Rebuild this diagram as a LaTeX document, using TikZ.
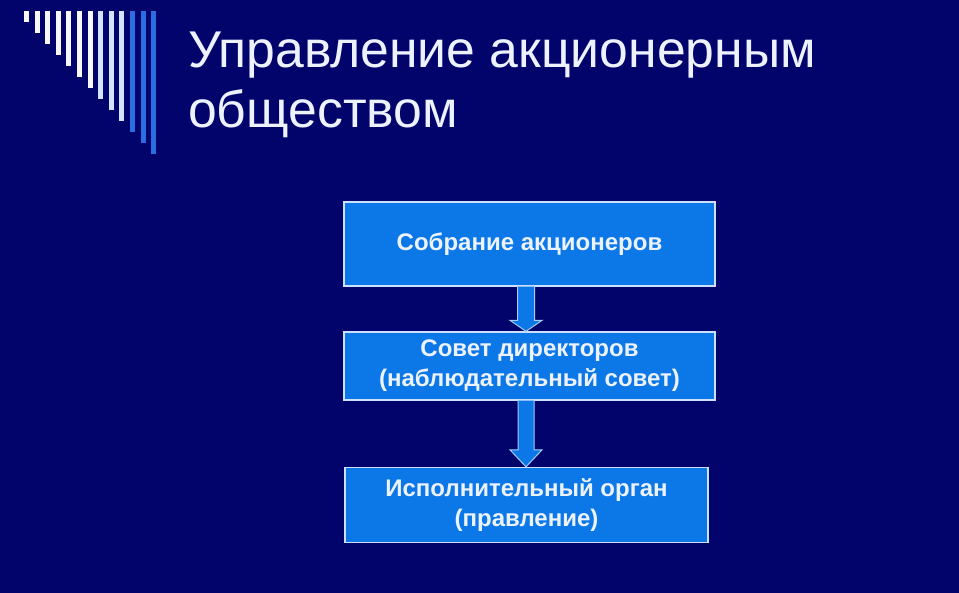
\documentclass[tikz,border=0pt]{standalone}
\usepackage{fontspec}
\setmainfont{Liberation Sans}
\usetikzlibrary{calc}
\definecolor{bgnavy}{RGB}{3,3,108}
\definecolor{boxblue}{RGB}{12,120,232}
\definecolor{boxline}{RGB}{205,225,255}
\definecolor{barwhite}{RGB}{248,248,250}
\definecolor{barpale}{RGB}{214,226,255}
\definecolor{barblue}{RGB}{42,110,226}
\definecolor{txtlight}{RGB}{236,242,255}
\tikzset{
  stepbox/.style={draw=boxline, line width=1.3pt, fill=boxblue, inner sep=0pt,
    text=txtlight, align=center, font=\bfseries\fontsize{24}{30}\selectfont},
  titletext/.style={anchor=base west, inner sep=0pt, text=txtlight,
    font=\fontsize{51.7}{60}\selectfont},
  blockarrow/.style={draw=boxline!80!boxblue, line width=1pt, fill=boxblue, line join=miter}
}
\begin{document}
\begin{tikzpicture}[x=1pt,y=-1pt]
\fill[bgnavy] (0,0) rectangle (959,593);
\useasboundingbox (0,0) rectangle (959,593);
% decorative bars
\foreach \i/\c in {0/barwhite,1/barwhite,2/barwhite,3/barwhite,4/barwhite,5/barwhite,6/barwhite,7/barpale,8/barpale,9/barpale,10/barblue,11/barblue,12/barblue}{
  \fill[\c] ({24+10.6*\i},11) rectangle ({29+10.6*\i},{22+11*\i});
}
% title
\node[titletext] (t1) at (188,68) {Управление акционерным};
\node[titletext] (t2) at (188,128) {обществом};
% boxes
\node[stepbox, minimum width=371pt, minimum height=84pt] (b1) at (529.5,244) {Собрание акционеров};
\node[stepbox, minimum width=371pt, minimum height=68pt] (b2) at (529.5,366) {Совет директоров\\(наблюдательный совет)};
\node[stepbox, minimum width=363pt, minimum height=75pt] (b3) at (526.5,505) {Исполнительный орган\\(правление)};
% arrows
\coordinate (ax) at (526,0);
\coordinate (a1s) at (b1.south -| ax);
\coordinate (a1e) at (b2.north -| ax);
\coordinate (a2s) at (b2.south -| ax);
\coordinate (a2e) at (b3.north -| ax);
\draw[blockarrow] ($(a1s)+(-8.5,0)$) -- ($(a1e)+(-8.5,-11)$) -- ($(a1e)+(-16,-11)$) -- (a1e)
  -- ($(a1e)+(16,-11)$) -- ($(a1e)+(8.5,-11)$) -- ($(a1s)+(8.5,0)$);
\draw[blockarrow] ($(a2s)+(-8,0)$) -- ($(a2e)+(-8,-17)$) -- ($(a2e)+(-16,-17)$) -- (a2e)
  -- ($(a2e)+(16,-17)$) -- ($(a2e)+(8,-17)$) -- ($(a2s)+(8,0)$);
\end{tikzpicture}
\end{document}
